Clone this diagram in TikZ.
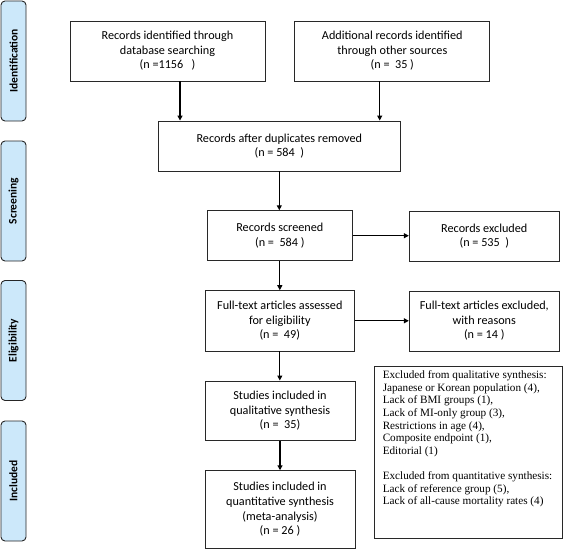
\documentclass[tikz,border=0pt]{standalone}
\usepackage{fontspec}
\setmainfont{Carlito}
\newfontfamily\serifbox{Liberation Serif}
\usetikzlibrary{arrows.meta}
\definecolor{sidefill}{RGB}{204,232,250}
\definecolor{boxline}{RGB}{40,40,40}
\begin{document}
\begin{tikzpicture}[x=1pt,y=-1pt,
  flowbox/.style={draw=boxline, line width=0.9pt, inner sep=0pt, align=center,
    font=\fontsize{12.2}{14.6}\selectfont},
  sidelabel/.style={draw=black!85, line width=0.9pt, fill=sidefill, rounded corners=4pt,
    rotate=90, minimum width=120pt, minimum height=25pt, inner sep=0pt,
    font=\fontsize{11.5}{13}\selectfont\bfseries},
  arr/.style={draw=black, line width=1.2pt, -{Triangle[length=5pt,width=5pt]}}]
\useasboundingbox (0,0) rectangle (568,551);
% side labels
\node[sidelabel] (l1) at (13.5,61) {Identification};
\node[sidelabel] (l2) at (13.5,201) {Screening};
\node[sidelabel] (l3) at (13.5,340.5) {Eligibility};
\node[sidelabel] (l4) at (13.5,481) {Included};
% boxes
\node[flowbox, minimum width=195pt, minimum height=60pt] (b1) at (167.5,51)
  {Records identified through\\database searching\\(n =1156\ \ \ )};
\node[flowbox, minimum width=195pt, minimum height=60pt] (b2) at (392.3,51)
  {Additional records identified\\through other sources\\(n =\ \ 35 )};
\node[flowbox, minimum width=242.7pt, minimum height=50pt] (b3) at (279.3,146)
  {Records after duplicates removed\\(n = 584\ \ )};
\node[flowbox, minimum width=145.7pt, minimum height=50pt] (b4) at (279.8,235.7)
  {Records screened\\(n =\ \ 584 )};
\node[flowbox, minimum width=150pt, minimum height=50pt] (b5) at (484.3,236)
  {Records excluded\\(n = 535\ \ )};
\node[flowbox, minimum width=149.7pt, minimum height=60.3pt] (b6) at (279.8,320.8)
  {Full-text articles assessed\\for eligibility\\(n =\ \ 49)};
\node[flowbox, minimum width=150pt, minimum height=60pt] (b7) at (484.3,321)
  {Full-text articles excluded,\\with reasons\\(n = 14 )};
\node[flowbox, minimum width=150pt, minimum height=59.7pt] (b9) at (280,410.8)
  {Studies included in\\qualitative synthesis\\(n =\ \ 35)};
\node[flowbox, minimum width=150pt, minimum height=77.6pt] (b10) at (280,509.5)
  {Studies included in\\quantitative synthesis\\(meta-analysis)\\(n = 26 )};
\node[draw=boxline, line width=0.9pt, minimum width=188pt, minimum height=172pt, inner sep=0pt] (b8) at (468,452) {};
\node[anchor=north west, inner sep=0pt, align=left, font=\serifbox\fontsize{11.2}{12.6}\selectfont]
  (t8) at ([xshift=9pt,yshift=-5pt]b8.north west)
  {Excluded from qualitative synthesis:\\
   Japanese or Korean population (4),\\
   Lack of BMI groups (1),\\
   Lack of MI-only group (3),\\
   Restrictions in age (4),\\
   Composite endpoint (1),\\
   Editorial (1)\\[12.6pt]
   Excluded from quantitative synthesis:\\
   Lack of reference group (5),\\
   Lack of all-cause mortality rates (4)};
% arrows
\draw[arr] ([xshift=12.5pt]b1.south) -- ([xshift=12.5pt]b1.south |- b3.north);
\draw[arr] ([xshift=-12.6pt]b2.south) -- ([xshift=-12.6pt]b2.south |- b3.north);
\draw[arr] (b3.south) -- (b3.south |- b4.north);
\draw[arr] (b4.east) -- (b4.east -| b5.west);
\draw[arr] (b4.south) -- (b4.south |- b6.north);
\draw[arr] (b6.east) -- (b6.east -| b7.west);
\draw[arr] (b6.south) -- (b6.south |- b9.north);
\draw[arr] (b9.south) -- (b9.south |- b10.north);
\end{tikzpicture}
\end{document}
